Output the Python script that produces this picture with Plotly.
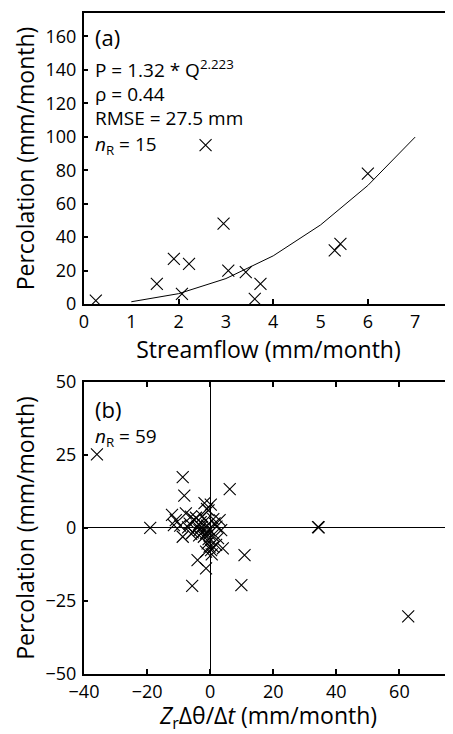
import plotly.graph_objects as go
from plotly.subplots import make_subplots

# ---- Panel (a) data ----
streamflow = [0.25, 1.54, 1.9, 2.22, 2.07, 2.57, 2.95, 3.05, 3.42, 3.61, 3.73, 5.3, 5.42, 6.0]
percolation_a = [2, 12, 27, 24, 6, 95, 48, 20, 19, 3, 12, 32, 36, 78]
fit_q = [1, 2, 3, 4, 5, 6, 7]
fit_p = [1.32, 6.16, 15.18, 28.78, 47.26, 70.87, 99.8]
xticks_a = [0, 1, 2, 3, 4, 5, 6, 7]
yticks_a = [0, 20, 40, 60, 80, 100, 120, 140, 160]

# ---- Panel (b) data ----
storage_change = [-35.9, -19, -8.7, -8.2, 6.2, -1.8, 0.2, -0.5, -12.1, -10.9,
                  -11.5, -8.7, -7.7, -6.1, -5, -6.5, -4, -3.4, -2.4, -1.3,
                  -0.2, 1.4, 3, 3.5, -0.8, -0.2, 0.3, -1.3, 4, 1.9,
                  -4, -1.3, 10.9, -5.7, 9.9, 34.4, 34.2, 62.8, -5.5, -2.8,
                  -1.0, 0.8, 2.5, -0.5, -7.0, -4.5, -3.0, -2.0, 1.0, 0.5,
                  -1.5, -9.5, -6.0, 2.0, -0.3, -3.5, -1.0, 1.0, -2.5]
percolation_b = [25.2, 0, 17.4, 11.1, 13.3, 8.5, 8, 6, 4.5, 2.7,
                 1.0, -3, 5, 3.9, 2.7, 1.5, 0.5, -0.7, -1.3, -1.8,
                 -0.7, 1.6, 2.7, -0.7, -5.3, -6.4, -7.6, -8.1, -7, -5.8,
                 -11, -13.8, -9.3, -19.8, -19.6, 0.2, 0.3, -30.3, -1.5, 0.3,
                 0.8, -2.5, -3.5, -3.8, 0.2, 3.5, 2.0, -3.0, 3.0, -9.0,
                 2.5, 0.8, -2.0, 0.5, -2.0, -2.5, 6.5, -6.5, 4.0]
xticks_b = [-40, -20, 0, 20, 40, 60]
yticks_b = [-50, -25, 0, 25, 50]

FONT = "Open Sans"

fig = make_subplots(rows=2, cols=1, vertical_spacing=0.118)

marker = dict(symbol="x-thin", size=12, line=dict(width=1.1, color="black"), color="black")

fig.add_trace(go.Scatter(x=streamflow, y=percolation_a, mode="markers", marker=marker,
                         showlegend=False), row=1, col=1)
fig.add_trace(go.Scatter(x=fit_q, y=fit_p, mode="lines", line=dict(color="black", width=1),
                         showlegend=False), row=1, col=1)
fig.add_trace(go.Scatter(x=storage_change, y=percolation_b, mode="markers", marker=marker,
                         showlegend=False), row=2, col=1)

tickfont = dict(family=FONT, size=18, color="black")
titlefont = dict(family=FONT, size=23, color="black")

fig.update_layout(
    width=445, height=726,
    margin=dict(l=76, r=0, t=5, b=60),
    paper_bgcolor="white", plot_bgcolor="white",
    font=dict(family=FONT, color="black"),
    xaxis=dict(domain=[0, 1], range=[0, 7.8], tickvals=xticks_a, ticks="", showgrid=False,
               zeroline=False, showline=True, linecolor="black", linewidth=2, mirror=True,
               automargin=False, ticklabelstandoff=0,
               minor=dict(tickvals=[2, 4, 6], ticks="inside", ticklen=5, tickwidth=2, tickcolor="black"),
               tickfont=tickfont,
               title=dict(text="Streamflow (mm/month)", font=titlefont, standoff=0)),
    yaxis=dict(domain=[0.5598, 1], range=[0, 174], tickvals=yticks_a, ticks="inside", ticklen=4,
               tickwidth=1.5, tickcolor="black", showgrid=False, zeroline=False, showline=True,
               linecolor="black", linewidth=2, mirror=False, tickfont=tickfont,
               automargin=False, ticklabelstandoff=2,
               title=dict(text="Percolation (mm/month)", font=titlefont, standoff=4)),
    xaxis2=dict(domain=[0, 1], range=[-40, 77], tickvals=xticks_b, ticks="inside", ticklen=5,
                tickwidth=2, tickcolor="black", showgrid=False, zeroline=True, zerolinecolor="black",
                zerolinewidth=1, showline=True, linecolor="black", linewidth=2, mirror="ticks",
                automargin=False, ticklabelstandoff=0,
                tickfont=tickfont, ticktext=["\u221240", "\u221220", "0", "20", "40", "60"],
                title=dict(text="<i>Z</i><sub>r</sub>\u0394\u03b8/\u0394<i>t</i> (mm/month)",
                           font=titlefont, standoff=12)),
    yaxis2=dict(domain=[0, 0.4418], range=[-50, 50], tickvals=yticks_b,
                ticktext=["\u221250", "\u221225", "0", "25", "50"], ticks="inside", ticklen=4,
                tickwidth=1.5, tickcolor="black", showgrid=False, zeroline=True, zerolinecolor="black",
                zerolinewidth=1, showline=True, linecolor="black", linewidth=2, mirror=False,
                automargin=False, ticklabelstandoff=2,
                tickfont=tickfont,
                title=dict(text="Percolation (mm/month)", font=titlefont, standoff=4)),
)

ann_font = dict(family=FONT, size=19, color="black")
big_font = dict(family=FONT, size=22, color="black")
anns = [
    ("(a)", "x domain", "y domain", 0.025, 0.918, big_font),
    ("P = 1.32 * Q<sup>2.223</sup>", "x domain", "y domain", 0.025, 0.808, ann_font),
    ("\u03c1 = 0.44", "x domain", "y domain", 0.025, 0.722, ann_font),
    ("RMSE = 27.5 mm", "x domain", "y domain", 0.025, 0.638, ann_font),
    ("<i>n</i><sub>R</sub> = 15", "x domain", "y domain", 0.025, 0.545, ann_font),
    ("(b)", "x2 domain", "y2 domain", 0.025, 0.908, big_font),
    ("<i>n</i><sub>R</sub> = 59", "x2 domain", "y2 domain", 0.025, 0.812, ann_font),
]
for text, xr, yr, x, y, f in anns:
    fig.add_annotation(text=text, xref=xr, yref=yr, x=x, y=y, xanchor="left", yanchor="middle",
                       showarrow=False, font=f, align="left")

fig.write_html("out.html")
